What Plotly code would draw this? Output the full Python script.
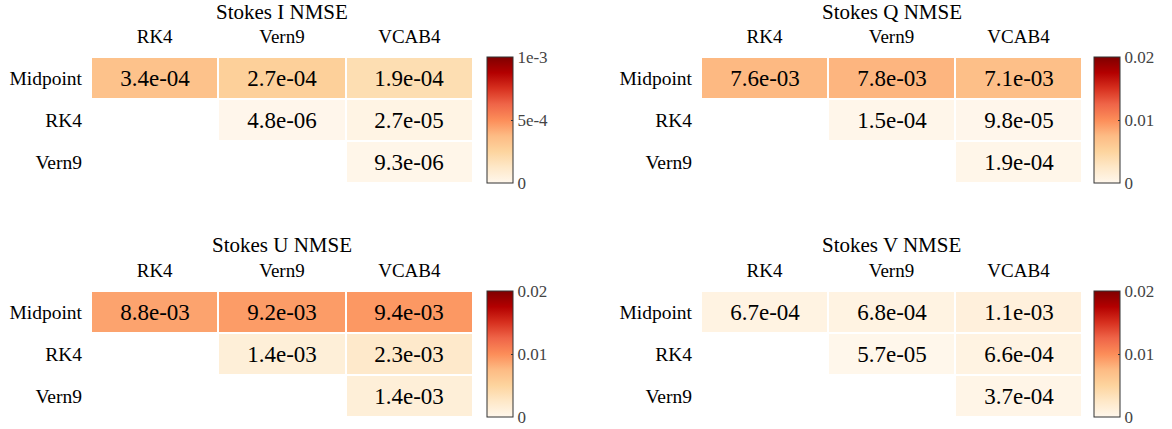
import plotly.graph_objects as go

# Integrator pairs compared in each panel
row_labels = ["Midpoint", "RK4", "Vern9"]
col_labels = ["RK4", "Vern9", "VCAB4"]

# NMSE between integrator pairs (upper triangle only; None = not compared)
nmse_I = [[3.4e-4, 2.7e-4, 1.9e-4],
          [None, 4.8e-6, 2.7e-5],
          [None, None, 9.3e-6]]
nmse_Q = [[7.6e-3, 7.8e-3, 7.1e-3],
          [None, 1.5e-4, 9.8e-5],
          [None, None, 1.9e-4]]
nmse_U = [[8.8e-3, 9.2e-3, 9.4e-3],
          [None, 1.4e-3, 2.3e-3],
          [None, None, 1.4e-3]]
nmse_V = [[6.7e-4, 6.8e-4, 1.1e-3],
          [None, 5.7e-5, 6.6e-4],
          [None, None, 3.7e-4]]

panel_titles = ["Stokes I NMSE", "Stokes Q NMSE", "Stokes U NMSE", "Stokes V NMSE"]
panel_data = [nmse_I, nmse_Q, nmse_U, nmse_V]
zmax_vals = [1e-3, 0.02, 0.02, 0.02]
cbar_tickvals = [[0, 5e-4, 1e-3], [0, 0.01, 0.02], [0, 0.01, 0.02], [0, 0.01, 0.02]]
cbar_ticktext = [["0", "5e-4", "1e-3"], ["0", "0.01", "0.02"],
                 ["0", "0.01", "0.02"], ["0", "0.01", "0.02"]]

W, H = 1172, 429
FONT = "Liberation Serif, Times New Roman, serif"

x_domains = [[91 / W, 473 / W], [701 / W, 1082 / W]]
y_domains = [[1 - 183 / H, 1 - 57 / H], [1 - 417 / H, 1 - 291 / H]]
cbar_x = [487 / W, 1094 / W]

fig = go.Figure()

for i, (title, data, zmax) in enumerate(zip(panel_titles, panel_data, zmax_vals)):
    r, c = divmod(i, 2)
    ax = "" if i == 0 else str(i + 1)
    xd, yd = x_domains[c], y_domains[r]
    text = [["" if v is None else f"{v:.1e}" for v in row] for row in data]
    fig.add_trace(go.Heatmap(
        z=data, x=col_labels, y=row_labels, text=text,
        texttemplate="%{text}", textfont=dict(family=FONT, size=23, color="black"),
        colorscale="OrRd", zmin=0, zmax=zmax, xgap=2, ygap=2,
        hoverongaps=False,
        xaxis="x" + ax, yaxis="y" + ax,
        colorbar=dict(
            x=cbar_x[c], xanchor="left", xpad=0, ypad=0,
            y=(yd[0] + yd[1]) / 2, yanchor="middle", len=yd[1] - yd[0],
            thickness=26, outlinewidth=1, outlinecolor="#333",
            tickvals=cbar_tickvals[i], ticktext=cbar_ticktext[i],
            ticks="inside", ticklen=2, tickcolor="#333",
            tickfont=dict(family=FONT, size=17, color="#444"),
        ),
    ))
    fig.update_layout({
        "xaxis" + ax: dict(domain=xd, side="top", showgrid=False, zeroline=False,
                           showline=False, ticks="", ticklabelstandoff=9,
                           tickfont=dict(family=FONT, size=19, color="black"),
                           anchor="y" + ax),
        "yaxis" + ax: dict(domain=yd, autorange="reversed", showgrid=False,
                           zeroline=False, showline=False, ticks="",
                           ticklabelstandoff=8,
                           tickfont=dict(family=FONT, size=19.5, color="black"),
                           anchor="x" + ax),
    })
    fig.add_annotation(
        text=title, x=(xd[0] + xd[1]) / 2, y=1 - (12 if r == 0 else 245) / H,
        xref="paper", yref="paper", showarrow=False, xanchor="center", yanchor="middle",
        font=dict(family=FONT, size=21, color="black"),
    )

fig.update_layout(
    width=W, height=H, margin=dict(l=0, r=0, t=0, b=0),
    paper_bgcolor="white", plot_bgcolor="white",
    font=dict(family=FONT), showlegend=False,
)

fig.write_html("out.html")
